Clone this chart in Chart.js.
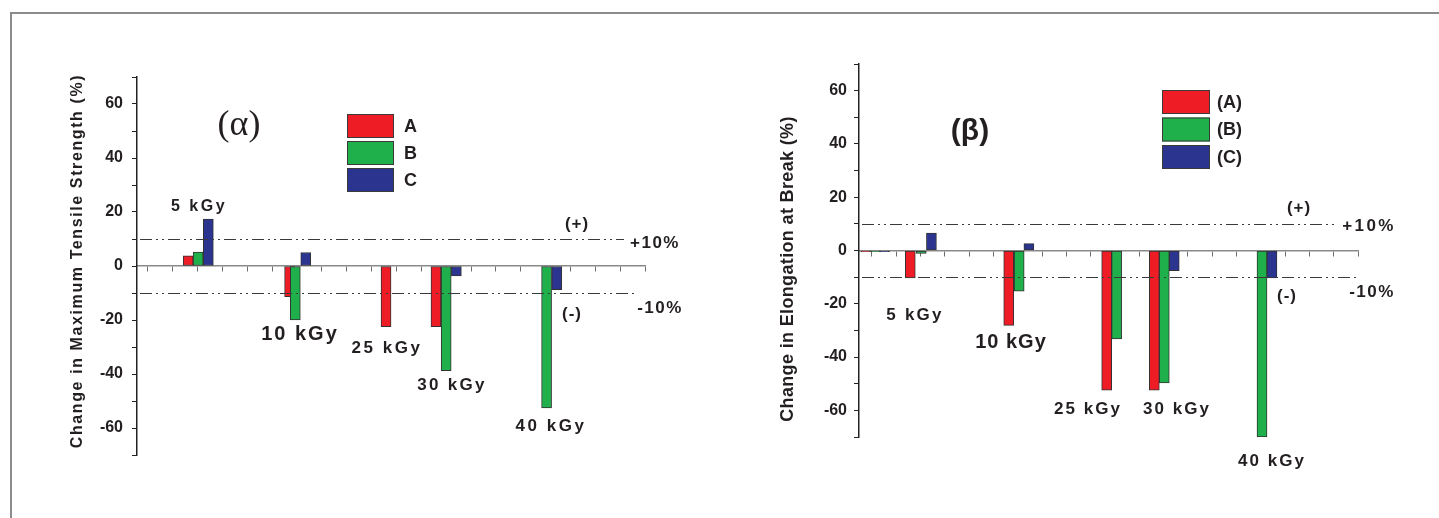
<!DOCTYPE html>
<html>
<head>
<meta charset="utf-8">
<script src="https://cdn.jsdelivr.net/npm/chart.js@4.4.1/dist/chart.umd.min.js"></script>
<style>
  html, body { margin: 0; padding: 0; background: #fff; }
  body { width: 1439px; height: 518px; position: relative; overflow: hidden; }
  .frame { position: absolute; left: 10px; top: 12px; right: -10px; bottom: -10px;
           border-top: 2px solid #8c8c8c; border-left: 2px solid #8c8c8c; }
  canvas { position: absolute; top: 0; }
  #chartAlpha { left: 0; }
  #chartBeta { left: 720px; }
</style>
</head>
<body>
<div class="frame"></div>
<canvas id="chartAlpha" width="720" height="518"></canvas>
<canvas id="chartBeta" width="719" height="518"></canvas>
<script>
// Series / dose labels
const seriesAlpha = ['A', 'B', 'C'];
const seriesBeta = ['(A)', '(B)', '(C)'];
const doseLabels = ['5 kGy', '10 kGy', '25 kGy', '30 kGy', '40 kGy'];
const limitValues = [10, -10];          // +10% / -10% bands
const seriesColors = ['#ee1c25', '#1fb04c', '#2b3590'];

// (α) Change in maximum tensile strength (%), per dose 5,10,25,30,40 kGy
const alphaA = [3.8, -11.4, -22.5, -22.5, null];
const alphaB = [5.2, -20, null, -38.8, -52.6];
const alphaC = [17.4, 5, null, -3.7, -8.8];
// bar positions on the x axis (axis units)
const alphaXA = [1.62, 5.70, 9.58, 11.59, null];
const alphaXB = [2.02, 5.93, null, 12.0, 16.04];
const alphaXC = [2.43, 6.35, null, 12.41, 16.45];

// (β) Change in elongation at break (%), control group + 5,10,25,30,40 kGy
const betaA = [-0.4, -10.3, -28.1, -52.4, -52.4, null];
const betaB = [-0.4, -1.1, -15.3, -33.2, -49.7, -70];
const betaC = [-0.4, 6.5, 2.6, null, -7.6, -10.3];
const betaXA = [-0.25, 1.58, 5.63, 9.66, 11.62, null];
const betaXB = [0.15, 2.03, 6.06, 10.07, 12.03, 16.05];
const betaXC = [0.52, 2.45, 6.46, null, 12.44, 16.46];

Chart.defaults.font.family = '"Liberation Sans", Arial, sans-serif';
Chart.defaults.color = '#231f20';

function makeBars(xs, ys) {
    return xs.map((x, i) => ({ x: x, y: ys[i] }))
        .filter(p => p.x !== null && p.y !== null);
}

function drawText(ctx, t) {
    ctx.save();
    ctx.font = t.font;
    ctx.letterSpacing = (t.ls || 0) + 'px';
    ctx.fillStyle = '#231f20';
    ctx.textAlign = 'center';
    ctx.textBaseline = 'middle';
    if (t.rotate) {
        ctx.translate(t.x, t.y);
        ctx.rotate(-Math.PI / 2);
        ctx.fillText(t.text, 0, 0);
    } else {
        ctx.fillText(t.text, t.x, t.y);
    }
    ctx.restore();
}

// draws the dash-dot limit lines, the in-plot legend and all the loose labels
function figurePlugin(fig) {
    return {
        id: 'figureText',
        afterDatasetsDraw(chart) {
            const ctx = chart.ctx;
            const area = chart.chartArea;
            const yScale = chart.scales.y;
            ctx.save();
            ctx.strokeStyle = '#3a3a3a';
            ctx.lineWidth = 1;
            ctx.setLineDash([12, 4, 2, 4, 2, 4]);
            limitValues.forEach((v, i) => {
                const py = Math.round(yScale.getPixelForValue(v)) + 0.5;
                ctx.beginPath();
                ctx.moveTo(area.left + 3, py);
                ctx.lineTo(area.right - fig.lineTrim[i], py);
                ctx.stroke();
            });
            ctx.restore();
        },
        afterDraw(chart) {
            const ctx = chart.ctx;
            // legend
            const lg = fig.legend;
            chart.data.datasets.forEach((ds, i) => {
                const top = lg.y + i * lg.step;
                ctx.save();
                ctx.fillStyle = ds.backgroundColor;
                ctx.fillRect(lg.x, top, lg.w, lg.h);
                ctx.strokeStyle = '#3a3a3a';
                ctx.lineWidth = 1;
                ctx.strokeRect(lg.x + 0.5, top + 0.5, lg.w - 1, lg.h - 1);
                ctx.font = lg.font;
                ctx.fillStyle = '#231f20';
                ctx.textBaseline = 'middle';
                ctx.fillText(ds.label, lg.textX, top + lg.h / 2 + 1);
                ctx.restore();
            });
            fig.texts.forEach(t => drawText(ctx, t));
        }
    };
}

function buildChart(canvasId, names, xs, ys, fig) {
    return new Chart(document.getElementById(canvasId), {
        type: 'bar',
        data: {
            datasets: names.map((name, i) => ({
                label: name,
                data: makeBars(xs[i], ys[i]),
                backgroundColor: seriesColors[i],
                borderColor: '#333',
                borderWidth: 1,
                borderSkipped: false,
                barThickness: 10,
                grouped: false,
                order: 3 - i
            }))
        },
        options: {
            responsive: false,
            animation: false,
            devicePixelRatio: 1,
            layout: { padding: fig.padding },
            plugins: { legend: { display: false }, tooltip: { enabled: false } },
            scales: {
                x: {
                    type: 'linear',
                    offset: false,
                    min: fig.xMin,
                    max: 20,
                    position: { y: 0 },
                    grid: { drawOnChartArea: false, drawTicks: true, tickLength: 5, color: '#6d6d6d', offset: false },
                    border: { display: true, color: '#8a8a8a', width: 1.5 },
                    ticks: { display: false, stepSize: 1, includeBounds: false }
                },
                y: {
                    min: -70,
                    max: 70,
                    grid: { drawOnChartArea: false, tickLength: 5, color: '#222' },
                    border: { color: '#222', width: 1.5 },
                    ticks: {
                        stepSize: 10,
                        padding: fig.tickPad,
                        color: '#231f20',
                        font: { size: fig.tickSize, weight: 'bold' },
                        callback: v => (v % 20 === 0 && Math.abs(v) <= 60) ? String(v) : ''
                    },
                    afterFit: s => { s.width = fig.axisLeft; }
                }
            }
        },
        plugins: [figurePlugin(fig)]
    });
}

const sans = '"Liberation Sans", Arial, sans-serif';

buildChart('chartAlpha', seriesAlpha,
    [alphaXA, alphaXB, alphaXC], [alphaA, alphaB, alphaC], {
    padding: { left: 0, top: 77, right: 75, bottom: 63 },
    axisLeft: 137,
    xMin: -0.44,
    tickPad: 9,
    tickSize: 16,
    lineTrim: [21, 7],
    legend: { x: 347, y: 114, step: 27, w: 47, h: 24, textX: 404, font: 'bold 18px ' + sans },
    texts: [
        { text: 'Change in Maximum Tensile Strength (%)', x: 78, y: 261, font: 'bold 16px ' + sans, ls: 1.6, rotate: true },
        { text: '(α)', x: 239, y: 126, font: '36px "Liberation Serif", "DejaVu Serif", serif' },
        { text: doseLabels[0], x: 199, y: 207, font: 'bold 16px ' + sans, ls: 2.5 },
        { text: doseLabels[1], x: 300, y: 334, font: 'bold 20px ' + sans, ls: 2 },
        { text: doseLabels[2], x: 387, y: 348, font: 'bold 17px ' + sans, ls: 2.5 },
        { text: doseLabels[3], x: 452, y: 385, font: 'bold 17px ' + sans, ls: 2.3 },
        { text: doseLabels[4], x: 551, y: 426, font: 'bold 17px ' + sans, ls: 2.5 },
        { text: '(+)', x: 577, y: 224, font: 'bold 17px ' + sans, ls: 1 },
        { text: '+10%', x: 655, y: 243, font: 'bold 17px ' + sans, ls: 1.5 },
        { text: '(-)', x: 572, y: 314, font: 'bold 17px ' + sans, ls: 1 },
        { text: '-10%', x: 660, y: 308, font: 'bold 17px ' + sans, ls: 1.5 }
    ]
});

buildChart('chartBeta', seriesBeta,
    [betaXA, betaXB, betaXC], [betaA, betaB, betaC], {
    padding: { left: 0, top: 64, right: 81, bottom: 81 },
    axisLeft: 139,
    xMin: -0.53,
    tickPad: 7,
    tickSize: 16,
    lineTrim: [20, 2],
    legend: { x: 442, y: 90, step: 27.5, w: 48, h: 24, textX: 497, font: 'bold 18px ' + sans },
    texts: [
        { text: 'Change in Elongation at Break (%)', x: 68, y: 269, font: 'bold 18px ' + sans, ls: 0.35, rotate: true },
        { text: '(β)', x: 250, y: 132, font: 'bold 30px ' + sans },
        { text: doseLabels[0], x: 195, y: 315, font: 'bold 17px ' + sans, ls: 2.2 },
        { text: doseLabels[1], x: 291, y: 342, font: 'bold 20px ' + sans, ls: 1 },
        { text: doseLabels[2], x: 368, y: 409, font: 'bold 17px ' + sans, ls: 2 },
        { text: doseLabels[3], x: 457, y: 409, font: 'bold 17px ' + sans, ls: 2 },
        { text: doseLabels[4], x: 552, y: 461, font: 'bold 17px ' + sans, ls: 2 },
        { text: '(+)', x: 579, y: 208, font: 'bold 17px ' + sans, ls: 1 },
        { text: '+10%', x: 649, y: 226, font: 'bold 17px ' + sans, ls: 2.4 },
        { text: '(-)', x: 567, y: 296, font: 'bold 17px ' + sans, ls: 1 },
        { text: '-10%', x: 652, y: 292, font: 'bold 17px ' + sans, ls: 1.5 }
    ]
});
</script>
</body>
</html>
